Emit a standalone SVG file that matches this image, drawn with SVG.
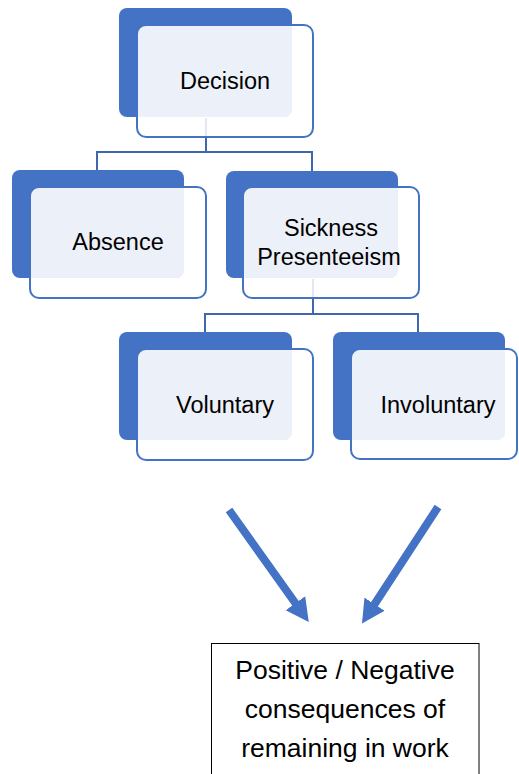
<svg xmlns="http://www.w3.org/2000/svg" width="519" height="774" viewBox="0 0 519 774">
<style>
.back{fill:#4472C4}
.front{fill:#FFFFFF;fill-opacity:0.85}
.light{fill:#ECF0F9}
.outline{fill:none;stroke:#4472C4;stroke-width:2}
.conn{fill:none;stroke:#3F67B0;stroke-width:2}
.lbl{font-family:"Liberation Sans",Arial,sans-serif;font-size:23.5px;fill:#000;text-anchor:middle}
.big{font-family:"Liberation Sans",Arial,sans-serif;font-size:26.5px;fill:#000;text-anchor:middle}
.arrow{stroke:#4472C4;stroke-width:8;fill:none}
</style>
<defs>
<marker id="head" markerUnits="userSpaceOnUse" markerWidth="24" markerHeight="26" viewBox="0 0 24 26" refX="1" refY="13" orient="auto">
<path d="M0,1 L23,13 L0,25 Z" fill="#4472C4"/>
</marker>
</defs>
<rect width="519" height="774" fill="#FFFFFF"/>
<g id="connectors">
<path class="conn" d="M206,118 V152 M97,170 V152 H312 V171"/>
<path class="conn" d="M313,279 V314 M205,332 V314 H418 V332"/>
<line class="arrow" x1="229" y1="510" x2="296" y2="604" marker-end="url(#head)"/>
<line class="arrow" x1="438" y1="507" x2="374" y2="605" marker-end="url(#head)"/>
</g>
<g id="node-decision">
<rect class="back" x="119" y="8" width="173" height="109" rx="8"/>
<rect class="front" x="137" y="25" width="176" height="112" rx="9"/>
<path class="light" d="M137,34 A9,9 0 0 1 146,25 H292 V109 A8,8 0 0 1 284,117 H137 Z"/>
<rect class="outline" x="137" y="25" width="176" height="112" rx="9"/>
<text class="lbl" x="225" y="89">Decision</text>
</g>
<g id="node-absence">
<rect class="back" x="12" y="170" width="172" height="108" rx="8"/>
<rect class="front" x="30" y="187" width="176" height="111" rx="9"/>
<path class="light" d="M30,196 A9,9 0 0 1 39,187 H184 V270 A8,8 0 0 1 176,278 H30 Z"/>
<rect class="outline" x="30" y="187" width="176" height="111" rx="9"/>
<text class="lbl" x="118" y="249.5">Absence</text>
</g>
<g id="node-sickness">
<rect class="back" x="226" y="171" width="172" height="107" rx="8"/>
<rect class="front" x="243" y="187" width="176" height="111" rx="9"/>
<path class="light" d="M243,196 A9,9 0 0 1 252,187 H398 V270 A8,8 0 0 1 390,278 H243 Z"/>
<rect class="outline" x="243" y="187" width="176" height="111" rx="9"/>
<text class="lbl" x="331" y="236">Sickness</text>
<text class="lbl" x="329" y="265">Presenteeism</text>
</g>
<g id="node-voluntary">
<rect class="back" x="119" y="332" width="173" height="108" rx="8"/>
<rect class="front" x="137" y="349" width="176" height="111" rx="9"/>
<path class="light" d="M137,358 A9,9 0 0 1 146,349 H292 V432 A8,8 0 0 1 284,440 H137 Z"/>
<rect class="outline" x="137" y="349" width="176" height="111" rx="9"/>
<text class="lbl" x="225" y="412.5">Voluntary</text>
</g>
<g id="node-involuntary">
<rect class="back" x="333" y="332" width="172" height="108" rx="8"/>
<rect class="front" x="351" y="349" width="166" height="110" rx="9"/>
<path class="light" d="M351,358 A9,9 0 0 1 360,349 H505 V432 A8,8 0 0 1 497,440 H351 Z"/>
<rect class="outline" x="351" y="349" width="166" height="110" rx="9"/>
<text class="lbl" x="438" y="412.5">Involuntary</text>
</g>
<g id="node-consequences">
<rect x="211.5" y="643.5" width="267.5" height="140" fill="#FFFFFF" stroke="#000" stroke-width="1"/>
<text class="big" x="345" y="679">Positive / Negative</text>
<text class="big" x="345" y="718">consequences of</text>
<text class="big" x="345" y="757">remaining in work</text>
</g>
</svg>
